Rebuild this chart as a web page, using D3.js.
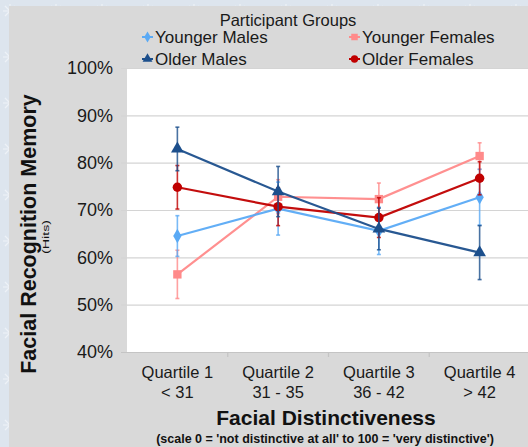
<!DOCTYPE html>
<html>
<head>
<meta charset="utf-8">
<script src="https://cdn.jsdelivr.net/npm/d3@7"></script>
<style>
  html, body { margin: 0; padding: 0; }
  body { width: 528px; height: 447px; overflow: hidden; }
  svg { display: block; font-family: "Liberation Sans", Arial, sans-serif; }
</style>
</head>
<body>
<svg id="chart" width="528" height="447"></svg>
<script>
// Quartile groups of facial distinctiveness
const categories = ["Quartile 1", "Quartile 2", "Quartile 3", "Quartile 4"];
const rangeLabels = ["< 31", "31 - 35", "36 - 42", "> 42"];

// Mean hit rates (%) per group, with error bar half-widths
const youngerMales   = [64.5, 70.3, 65.6, 72.7];
const youngerMalesErr   = [4.3, 5.6, 5.0, 5.9];
const youngerFemales = [56.4, 72.8, 72.3, 81.4];
const youngerFemalesErr = [5.1, 3.6, 3.4, 2.8];
const olderMales     = [82.9, 73.9, 66.0, 61.0];
const olderMalesErr     = [4.6, 5.3, 4.4, 5.7];
const olderFemales   = [74.8, 70.7, 68.4, 76.7];
const olderFemalesErr   = [4.6, 4.0, 4.2, 3.5];

const yTicks = [40, 50, 60, 70, 80, 90, 100];

const series = [
  { name: "Younger Males",   values: youngerMales,   err: youngerMalesErr,   color: "#5aaaf5", shape: d3.symbolDiamond,  size: 60 },
  { name: "Younger Females", values: youngerFemales, err: youngerFemalesErr, color: "#ff8a8a", shape: d3.symbolSquare,   size: 70 },
  { name: "Older Males",     values: olderMales,     err: olderMalesErr,     color: "#1c4f8c", shape: d3.symbolTriangle, size: 70 },
  { name: "Older Females",   values: olderFemales,   err: olderFemalesErr,   color: "#c00000", shape: d3.symbolCircle,   size: 70 }
];
// draw order (back to front)
const drawOrder = [1, 0, 3, 2];

const svg = d3.select("#chart");
const W = 528, H = 447;

// textured backdrop
const defs = svg.append("defs");
const pat = defs.append("pattern")
  .attr("id", "frost").attr("width", 46).attr("height", 46)
  .attr("patternUnits", "userSpaceOnUse");
pat.append("rect").attr("width", 46).attr("height", 46).attr("fill", "#dde5ee");
pat.append("path")
  .attr("d", "M10,4 L10,18 M3,11 L17,11 M5,6 L15,16 M15,6 L5,16 M33,26 L33,42 M25,34 L41,34 M27,28 L39,40 M39,28 L27,40")
  .attr("stroke", "#f2f5f9").attr("stroke-width", 1.2).attr("opacity", 0.8);
svg.append("rect").attr("width", W).attr("height", H).attr("fill", "url(#frost)");

// gray panel
svg.append("rect").attr("x", 9).attr("y", 6).attr("width", W - 9).attr("height", H - 6)
  .attr("fill", "#d9d9d9");

const plot = { left: 127, top: 68, right: 530, bottom: 352 };

const x = d3.scaleBand().domain(categories).range([plot.left, plot.right]);
const y = d3.scaleLinear().domain([40, 100]).range([plot.bottom, plot.top]);

// plot area
svg.append("rect")
  .attr("x", plot.left).attr("y", plot.top)
  .attr("width", plot.right - plot.left).attr("height", plot.bottom - plot.top)
  .attr("fill", "#ffffff");

// gridlines and y axis
const yAxis = d3.axisLeft(y).tickValues(yTicks).tickFormat(d => d + "%")
  .tickSize(-(plot.right - plot.left)).tickPadding(14);
const gy = svg.append("g").attr("transform", `translate(${plot.left},0)`).call(yAxis);
gy.select(".domain").remove();
gy.selectAll(".tick line").attr("stroke", "#d4d4d4").attr("stroke-width", 1.2)
  .attr("x1", -6);
gy.selectAll(".tick text").attr("font-size", 18).attr("fill", "#1a1a1a")
  .attr("font-family", "'Liberation Sans', Arial, sans-serif");

// x axis
const xAxis = d3.axisBottom(x).tickSize(0).tickFormat("");
const gx = svg.append("g").attr("transform", `translate(0,${plot.bottom})`).call(xAxis);
gx.select(".domain").attr("stroke", "#c4c4c4").attr("stroke-width", 1.2)
  .attr("d", `M${plot.left - 6},0.5H${plot.right}`);
gx.selectAll(".tick").remove();
// category boundary ticks
const bounds = categories.slice(1).map(c => x(c));
gx.selectAll(".bound").data(bounds).enter().append("line")
  .attr("x1", d => d).attr("x2", d => d).attr("y1", 0).attr("y2", 5)
  .attr("stroke", "#c4c4c4").attr("stroke-width", 1.2);

// category labels
const cx = c => x(c) + x.bandwidth() / 2;
const labels = svg.append("g").attr("font-size", 16.5).attr("fill", "#1a1a1a")
  .attr("text-anchor", "middle");
categories.forEach((c, i) => {
  labels.append("text").attr("x", cx(c)).attr("y", 378).text(c);
  labels.append("text").attr("x", cx(c)).attr("y", 398).text(rangeLabels[i]);
});

// axis titles
svg.append("text").attr("x", 326).attr("y", 425).attr("text-anchor", "middle")
  .attr("font-size", 21).attr("font-weight", "bold").attr("fill", "#111")
  .text("Facial Distinctiveness");
svg.append("text").attr("x", 325).attr("y", 443).attr("text-anchor", "middle")
  .attr("font-size", 12.5).attr("font-weight", "bold").attr("fill", "#111")
  .text("(scale 0 = 'not distinctive at all' to 100 = 'very distinctive')");
svg.append("text").attr("transform", "translate(36,234) rotate(-90)")
  .attr("text-anchor", "middle").attr("font-size", 21.5).attr("font-weight", "bold")
  .attr("fill", "#111").text("Facial Recognition Memory");
svg.append("text").attr("transform", "translate(48.5,237) rotate(-90)")
  .attr("text-anchor", "middle").attr("font-size", 8.5).attr("fill", "#111")
  .attr("textLength", 34).attr("lengthAdjust", "spacingAndGlyphs")
  .text("(Hits)");

// series
const line = d3.line().x((d, i) => cx(categories[i])).y(d => y(d));
drawOrder.forEach(si => {
  const s = series[si];
  const g = svg.append("g");
  // error bars
  s.values.forEach((v, i) => {
    const px = cx(categories[i]);
    const top = y(v + s.err[i]), bot = y(v - s.err[i]);
    g.append("line").attr("x1", px).attr("x2", px).attr("y1", top).attr("y2", bot)
      .attr("stroke", s.color).attr("stroke-width", 1.6).attr("opacity", 0.8);
    [top, bot].forEach(yy => g.append("line")
      .attr("x1", px - 2).attr("x2", px + 2).attr("y1", yy).attr("y2", yy)
      .attr("stroke", s.color).attr("stroke-width", 1.6).attr("opacity", 0.8));
  });
  g.append("path").datum(s.values).attr("d", line)
    .attr("fill", "none").attr("stroke", s.color).attr("stroke-width", 2.2)
    .attr("opacity", 0.95);
  g.selectAll(".m").data(s.values).enter().append("path")
    .attr("transform", (d, i) => `translate(${cx(categories[i])},${y(d)})`)
    .attr("d", d3.symbol().type(s.shape).size(s.size))
    .attr("fill", s.color);
});

// legend
svg.append("text").attr("x", 288).attr("y", 26).attr("text-anchor", "middle")
  .attr("font-size", 16.5).attr("fill", "#1a1a1a").text("Participant Groups");
const legendPos = [[142, 37], [349, 37], [142, 59], [349, 59]];
series.forEach((s, i) => {
  const [lx, ly] = legendPos[i];
  const g = svg.append("g").attr("transform", `translate(${lx},${ly})`);
  g.append("line").attr("x1", 0).attr("x2", 11).attr("y1", 0).attr("y2", 0)
    .attr("stroke", s.color).attr("stroke-width", 2);
  g.append("path").attr("transform", "translate(5.5,0)")
    .attr("d", d3.symbol().type(s.shape).size(s.size * 0.6)).attr("fill", s.color);
  g.append("text").attr("x", 13).attr("y", 6).attr("font-size", 17)
    .attr("fill", "#1a1a1a").text(s.name);
});
</script>
</body>
</html>
